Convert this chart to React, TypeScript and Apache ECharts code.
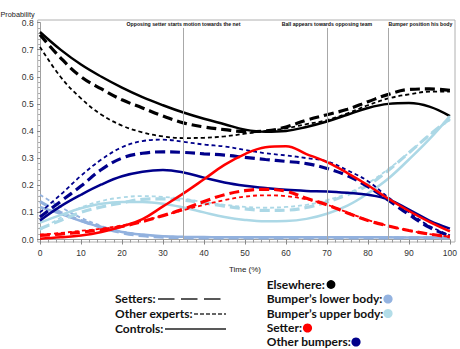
import React, { useEffect, useRef } from 'react';
import * as echarts from 'echarts';

const time = [0, 5, 10, 15, 20, 25, 30, 35, 40, 45, 50, 55, 60, 65, 70, 75, 80, 85, 90, 95, 100];

// Elsewhere (black)
const elsewhereSetters = [0.755, 0.67, 0.6, 0.555, 0.515, 0.485, 0.455, 0.43, 0.415, 0.405, 0.398, 0.4, 0.415, 0.44, 0.46, 0.48, 0.508, 0.535, 0.553, 0.555, 0.55];
const elsewhereOthers = [0.71, 0.6, 0.52, 0.46, 0.42, 0.395, 0.38, 0.374, 0.375, 0.38, 0.39, 0.4, 0.41, 0.425, 0.44, 0.465, 0.495, 0.52, 0.535, 0.545, 0.545];
const elsewhereControls = [0.765, 0.7, 0.645, 0.6, 0.56, 0.525, 0.495, 0.468, 0.445, 0.425, 0.405, 0.397, 0.4, 0.415, 0.435, 0.46, 0.485, 0.5, 0.503, 0.49, 0.455];

// Bumper's lower body
const lowerSetters = [0.14, 0.1, 0.07, 0.045, 0.025, 0.014, 0.009, 0.007, 0.006, 0.006, 0.006, 0.006, 0.006, 0.006, 0.006, 0.006, 0.006, 0.006, 0.006, 0.006, 0.006];
const lowerOthers = [0.165, 0.12, 0.08, 0.05, 0.03, 0.018, 0.012, 0.009, 0.008, 0.008, 0.008, 0.008, 0.008, 0.008, 0.008, 0.008, 0.008, 0.008, 0.008, 0.008, 0.008];
const lowerControls = [0.12, 0.095, 0.068, 0.045, 0.028, 0.018, 0.012, 0.01, 0.009, 0.008, 0.008, 0.008, 0.008, 0.008, 0.008, 0.008, 0.008, 0.008, 0.007, 0.007, 0.006];

// Bumper's upper body
const upperSetters = [0.04, 0.07, 0.1, 0.12, 0.135, 0.148, 0.15, 0.145, 0.135, 0.123, 0.113, 0.107, 0.108, 0.118, 0.138, 0.165, 0.2, 0.255, 0.32, 0.385, 0.445];
const upperOthers = [0.035, 0.08, 0.118, 0.142, 0.155, 0.16, 0.157, 0.15, 0.138, 0.128, 0.12, 0.117, 0.12, 0.128, 0.145, 0.17, 0.208, 0.26, 0.32, 0.385, 0.44];
const upperControls = [0.062, 0.09, 0.115, 0.132, 0.138, 0.138, 0.132, 0.118, 0.1, 0.083, 0.072, 0.067, 0.068, 0.076, 0.095, 0.125, 0.17, 0.225, 0.295, 0.37, 0.455];

// Setter (red)
const setterSetters = [0.015, 0.02, 0.027, 0.036, 0.048, 0.066, 0.088, 0.112, 0.14, 0.165, 0.18, 0.185, 0.178, 0.152, 0.128, 0.098, 0.07, 0.05, 0.033, 0.02, 0.01];
const setterOthers = [0.018, 0.024, 0.032, 0.04, 0.052, 0.068, 0.088, 0.108, 0.128, 0.145, 0.158, 0.163, 0.16, 0.148, 0.128, 0.1, 0.072, 0.05, 0.033, 0.02, 0.01];
const setterControls = [0.003, 0.008, 0.015, 0.028, 0.048, 0.075, 0.122, 0.17, 0.222, 0.275, 0.315, 0.34, 0.344, 0.315, 0.285, 0.245, 0.2, 0.15, 0.105, 0.065, 0.03];

// Other bumpers (navy)
const otherSetters = [0.083, 0.14, 0.197, 0.258, 0.3, 0.318, 0.323, 0.321, 0.316, 0.311, 0.303, 0.295, 0.288, 0.28, 0.262, 0.235, 0.195, 0.145, 0.092, 0.045, 0.012];
const otherOthers = [0.1, 0.165, 0.235, 0.295, 0.34, 0.363, 0.368, 0.36, 0.35, 0.343, 0.33, 0.318, 0.31, 0.3, 0.288, 0.255, 0.215, 0.155, 0.1, 0.05, 0.015];
const otherControls = [0.07, 0.122, 0.165, 0.203, 0.233, 0.25, 0.256, 0.247, 0.228, 0.21, 0.198, 0.19, 0.183, 0.179, 0.177, 0.172, 0.165, 0.148, 0.11, 0.07, 0.04];

const eventTimes = [35, 70, 85];
const eventLabels = ['Opposing setter starts motion towards the net', 'Ball appears towards opposing team', 'Bumper position his body'];

const BLACK = '#000000';
const LOWER = '#92b1de';
const UPPER = '#acd8e6';
const RED = '#ff0000';
const NAVY = '#00008b';

const categories = [
  { name: 'Elsewhere', color: BLACK, sets: [elsewhereSetters, elsewhereOthers, elsewhereControls] },
  { name: "Bumper’s lower body", color: LOWER, sets: [lowerSetters, lowerOthers, lowerControls] },
  { name: "Bumper’s upper body", color: UPPER, sets: [upperSetters, upperOthers, upperControls] },
  { name: 'Other bumpers', color: NAVY, sets: [otherSetters, otherOthers, otherControls] },
  { name: 'Setter', color: RED, sets: [setterSetters, setterOthers, setterControls] },
];
const groups = ['Setters', 'Other experts', 'Controls'];

const FONT = 'Liberation Sans, Arial, sans-serif';
const LEG_FONT = 'Lato, sans-serif';

export default function App() {
  const ref = useRef<HTMLDivElement>(null);
  useEffect(() => {
    if (!ref.current) return;
    const chart = echarts.init(ref.current, undefined, { renderer: 'svg' });
    const series: any[] = [];
    categories.forEach((cat) => {
      cat.sets.forEach((vals, gi) => {
        const style =
          gi === 0
            ? { width: 3.2, type: [10, 5] as any }
            : gi === 1
            ? { width: 1.8, type: [4, 3] as any }
            : { width: 2.5, type: 'solid' as any };
        series.push({
          name: `${groups[gi]} – ${cat.name}`,
          type: 'line',
          data: time.map((t, i) => [t, vals[i]]),
          smooth: 0.4,
          symbol: 'none',
          lineStyle: { color: cat.color, ...style },
          itemStyle: { color: cat.color },
          z: 2,
        });
      });
    });
    series[0].markLine = {
      silent: true,
      symbol: 'none',
      animation: false,
      lineStyle: { color: '#a8a8a8', width: 1, type: 'solid' },
      label: {
        show: true,
        position: 'end',
        distance: 1,
        fontSize: 5.2,
        fontFamily: FONT,
        fontWeight: 'bold',
        color: '#111',
      },
      data: eventTimes.map((t, i) => [
        { coord: [t, 0] },
        {
          coord: [t, 0.78],
          label: {
            formatter: eventLabels[i],
            ...(i === 2 ? { align: 'left' } : {}),
          },
        },
      ]),
    };

    chart.setOption({
      animation: false,
      grid: { left: 40, right: 7, top: 22.5, bottom: 109.5, containLabel: false },
      xAxis: {
        type: 'value',
        min: 0,
        max: 100,
        interval: 10,
        offset: 2.4,
        name: 'Time (%)',
        nameLocation: 'middle',
        nameGap: 24,
        nameTextStyle: { fontFamily: FONT, fontSize: 8, color: '#222' },
        axisLine: { show: true, lineStyle: { color: '#a0a0a0', width: 1 } },
        axisTick: { show: true, length: 5, lineStyle: { color: '#888' } },
        minorTick: { show: true, splitNumber: 5, length: 3, lineStyle: { color: '#999' } },
        splitLine: { show: false },
        axisLabel: { fontFamily: FONT, fontSize: 8.5, color: '#333', margin: 7 },
      },
      yAxis: {
        type: 'value',
        min: 0,
        max: 0.8,
        interval: 0.1,
        offset: 2.3,
        axisLine: { show: true, lineStyle: { color: '#a0a0a0', width: 1 } },
        axisTick: { show: true, length: 3, lineStyle: { color: '#888' } },
        minorTick: { show: true, splitNumber: 5, length: 2, lineStyle: { color: '#aaa' } },
        splitLine: { show: false },
        axisLabel: {
          fontFamily: FONT,
          fontSize: 8.5,
          color: '#333',
          margin: 4,
          formatter: (v: number) => v.toFixed(1),
        },
      },
      graphic: [
        {
          type: 'rect',
          shape: { x: 37.7, y: 20, width: 417.3, height: 222 },
          style: { fill: 'none', stroke: '#b0b0b0', lineWidth: 1 },
          silent: true,
          z: 0,
        },
        {
          type: 'text',
          x: 0.5,
          y: 14,
          style: { text: 'Probability', fontFamily: FONT, fontSize: 7.3, fill: '#222', align: 'left', verticalAlign: 'middle' },
        },
        // left legend: line styles
        { type: 'text', x: 115, y: 298, style: { text: 'Setters:', fontFamily: LEG_FONT, fontWeight: 'bold', fontSize: 12, fill: '#111', verticalAlign: 'middle' } },
        { type: 'line', shape: { x1: 158, y1: 299, x2: 221, y2: 299 }, style: { stroke: '#222', lineWidth: 1.6, lineDash: [16.5, 6.5] } },
        { type: 'text', x: 115, y: 313, style: { text: 'Other experts:', fontFamily: LEG_FONT, fontWeight: 'bold', fontSize: 12, fill: '#111', verticalAlign: 'middle' } },
        { type: 'line', shape: { x1: 194, y1: 314, x2: 226, y2: 314 }, style: { stroke: '#333', lineWidth: 1.3, lineDash: [4, 2] } },
        { type: 'text', x: 115, y: 328.5, style: { text: 'Controls:', fontFamily: LEG_FONT, fontWeight: 'bold', fontSize: 12, fill: '#111', verticalAlign: 'middle' } },
        { type: 'line', shape: { x1: 165, y1: 329, x2: 226, y2: 329 }, style: { stroke: '#222', lineWidth: 1.6 } },
        // right legend: colours
        { type: 'text', x: 266.7, y: 284, style: { text: 'Elsewhere:', fontFamily: LEG_FONT, fontWeight: 'bold', fontSize: 12, fill: '#111', verticalAlign: 'middle' } },
        { type: 'circle', shape: { cx: 331, cy: 284.5, r: 4.4 }, style: { fill: BLACK } },
        { type: 'text', x: 266.7, y: 298.5, style: { text: 'Bumper’s lower body:', fontFamily: LEG_FONT, fontWeight: 'bold', fontSize: 12, fill: '#111', verticalAlign: 'middle' } },
        { type: 'circle', shape: { cx: 388, cy: 299, r: 4.6 }, style: { fill: '#94b3e0' } },
        { type: 'text', x: 266.7, y: 313, style: { text: 'Bumper’s upper body:', fontFamily: LEG_FONT, fontWeight: 'bold', fontSize: 12, fill: '#111', verticalAlign: 'middle' } },
        { type: 'circle', shape: { cx: 388, cy: 313.5, r: 4.6 }, style: { fill: '#b3dde8' } },
        { type: 'text', x: 266.7, y: 327.5, style: { text: 'Setter:', fontFamily: LEG_FONT, fontWeight: 'bold', fontSize: 12, fill: '#111', verticalAlign: 'middle' } },
        { type: 'circle', shape: { cx: 307.5, cy: 328, r: 4.6 }, style: { fill: RED } },
        { type: 'text', x: 266.7, y: 341.5, style: { text: 'Other bumpers:', fontFamily: LEG_FONT, fontWeight: 'bold', fontSize: 12, fill: '#111', verticalAlign: 'middle' } },
        { type: 'circle', shape: { cx: 356, cy: 342, r: 4.6 }, style: { fill: NAVY } },
      ],
      series,
    });
    return () => chart.dispose();
  }, []);
  return (
    <div
      ref={ref}
      style={{ position: 'fixed', left: 0, top: 0, width: 460, height: 349, background: '#fff' }}
    />
  );
}
